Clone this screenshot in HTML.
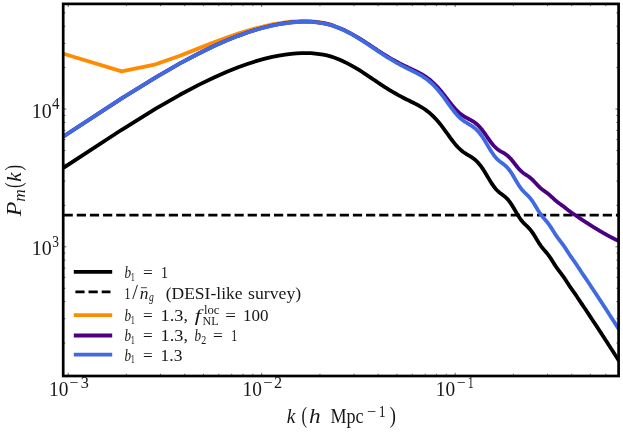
<!DOCTYPE html>
<html><head><meta charset="utf-8"><title>P_m(k)</title>
<style>html,body{margin:0;padding:0;background:#fff}svg{display:block}</style></head>
<body>
<svg width="623" height="433" viewBox="0 0 623 433">
<rect width="623" height="433" fill="#fff"/>
<defs><clipPath id="c"><rect x="63.2" y="3.9" width="555.4" height="372.1"/></clipPath></defs>
<g clip-path="url(#c)" fill="none" stroke-linejoin="round" stroke-linecap="butt">
<path d="M63.45,167.79 L121.70,129.78 L155.77,108.70 L179.94,94.79 L198.70,84.85 L214.02,77.43 L226.97,71.71 L238.19,67.23 L248.09,63.69 L256.95,60.88 L264.96,58.66 L272.27,56.93 L278.99,55.62 L285.22,54.65 L291.02,53.87 L296.44,53.38 L301.54,53.12 L306.34,53.06 L310.88,53.20 L315.20,53.53 L319.30,54.02 L323.20,54.67 L326.94,55.46 L330.52,56.39 L333.95,57.52 L337.24,58.75 L340.41,60.05 L343.47,61.42 L346.42,62.85 L349.27,64.33 L352.02,65.83 L354.69,67.36 L357.28,68.91 L359.79,70.46 L362.22,72.02 L364.59,73.56 L366.89,75.09 L369.13,76.60 L371.32,78.07 L373.44,79.51 L375.52,80.92 L377.54,82.29 L379.52,83.61 L381.45,84.89 L383.34,86.12 L385.19,87.31 L387.00,88.45 L388.77,89.55 L390.50,90.60 L392.20,91.61 L393.86,92.57 L395.49,93.50 L397.09,94.42 L398.66,95.30 L400.21,96.14 L401.72,96.95 L403.21,97.72 L404.67,98.47 L406.11,99.20 L407.52,99.90 L408.91,100.58 L410.27,101.26 L411.62,101.92 L412.94,102.57 L414.24,103.22 L415.53,103.87 L416.79,104.53 L418.04,105.19 L419.26,105.87 L420.47,106.56 L421.66,107.27 L422.84,108.00 L424.00,108.75 L425.14,109.53 L426.27,110.34 L427.38,111.17 L428.48,112.04 L429.57,112.94 L430.64,113.87 L431.69,114.84 L432.74,115.82 L433.77,116.82 L434.79,117.86 L435.79,118.93 L436.79,120.02 L437.77,121.15 L438.74,122.29 L439.70,123.47 L440.65,124.66 L441.59,125.86 L442.52,127.09 L443.44,128.32 L444.35,129.55 L445.25,130.79 L446.14,132.02 L447.02,133.25 L447.89,134.47 L448.75,135.67 L449.60,136.86 L450.45,138.02 L451.28,139.15 L452.11,140.26 L452.93,141.33 L453.74,142.37 L454.55,143.38 L455.34,144.34 L456.13,145.26 L456.91,146.14 L457.69,146.98 L458.46,147.77 L459.22,148.52 L459.97,149.23 L460.72,149.90 L461.46,150.54 L462.19,151.13 L462.92,151.69 L463.64,152.22 L464.36,152.72 L465.06,153.20 L465.77,153.65 L466.47,154.09 L467.16,154.51 L467.84,154.93 L468.52,155.33 L469.20,155.73 L469.87,156.14 L470.53,156.54 L471.19,156.96 L471.85,157.38 L472.49,157.82 L473.14,158.28 L473.78,158.75 L474.41,159.25 L475.04,159.77 L475.67,160.31 L476.29,160.88 L476.90,161.48 L477.51,162.11 L478.12,162.76 L478.72,163.44 L479.32,164.15 L479.91,164.88 L480.50,165.65 L481.09,166.43 L481.67,167.24 L482.25,168.08 L482.82,168.93 L483.39,169.80 L483.96,170.68 L484.52,171.58 L485.08,172.49 L485.63,173.41 L486.18,174.33 L486.73,175.25 L487.28,176.17 L487.82,177.09 L488.35,177.99 L488.89,178.89 L489.42,179.78 L489.94,180.65 L490.47,181.50 L490.99,182.33 L491.50,183.14 L492.02,183.92 L492.53,184.68 L493.04,185.41 L493.54,186.11 L494.04,186.79 L494.54,187.43 L495.04,188.05 L495.53,188.64 L496.02,189.19 L496.51,189.72 L496.99,190.23 L497.47,190.71 L497.95,191.16 L498.43,191.60 L498.90,192.01 L499.37,192.41 L499.84,192.79 L500.31,193.15 L500.77,193.51 L501.23,193.86 L501.69,194.20 L502.14,194.54 L502.60,194.88 L503.05,195.22 L503.50,195.56 L503.94,195.91 L504.38,196.26 L504.83,196.63 L505.26,197.01 L505.70,197.40 L506.14,197.80 L506.57,198.22 L507.00,198.66 L507.43,199.11 L507.85,199.58 L508.27,200.07 L508.70,200.58 L509.11,201.10 L509.53,201.64 L509.95,202.21 L510.36,202.78 L510.77,203.37 L511.18,203.98 L511.59,204.60 L511.99,205.24 L512.39,205.88 L512.80,206.54 L513.19,207.20 L513.59,207.87 L513.99,208.54 L514.38,209.22 L514.77,209.89 L515.16,210.57 L515.55,211.24 L515.94,211.91 L516.32,212.57 L516.70,213.23 L517.09,213.87 L517.47,214.50 L517.84,215.13 L518.22,215.73 L518.59,216.33 L518.97,216.91 L519.34,217.47 L519.71,218.01 L520.07,218.54 L520.44,219.05 L520.80,219.55 L521.17,220.03 L521.53,220.49 L521.89,220.93 L522.25,221.36 L522.60,221.77 L522.96,222.17 L523.31,222.56 L523.67,222.93 L524.02,223.30 L524.37,223.65 L524.71,224.00 L525.06,224.33 L525.41,224.67 L525.75,225.00 L526.09,225.32 L526.43,225.65 L526.77,225.97 L527.11,226.30 L527.45,226.63 L527.78,226.96 L528.12,227.30 L528.45,227.64 L528.78,227.99 L529.11,228.35 L529.44,228.72 L529.77,229.09 L530.09,229.48 L530.42,229.87 L530.74,230.27 L531.07,230.69 L531.39,231.11 L531.71,231.55 L532.03,231.99 L532.34,232.44 L532.66,232.90 L532.98,233.37 L533.29,233.85 L533.60,234.33 L533.91,234.82 L534.23,235.32 L534.54,235.82 L534.84,236.32 L535.15,236.82 L535.46,237.33 L535.76,237.84 L536.07,238.35 L536.37,238.85 L536.67,239.36 L536.97,239.86 L537.27,240.35 L537.57,240.85 L537.87,241.33 L538.16,241.81 L538.46,242.28 L538.75,242.75 L539.05,243.20 L539.34,243.65 L539.63,244.09 L539.92,244.52 L540.21,244.94 L540.50,245.35 L540.78,245.75 L541.07,246.15 L541.36,246.53 L541.64,246.90 L541.92,247.27 L542.21,247.63 L542.49,247.98 L542.77,248.33 L543.05,248.66 L543.33,249.00 L543.61,249.32 L543.88,249.65 L544.16,249.97 L544.43,250.29 L544.71,250.60 L544.98,250.91 L545.25,251.23 L545.52,251.54 L545.80,251.86 L546.06,252.17 L546.33,252.49 L546.60,252.81 L546.87,253.13 L547.14,253.45 L547.40,253.78 L547.67,254.12 L547.93,254.46 L548.19,254.80 L548.45,255.15 L548.72,255.50 L548.98,255.85 L549.24,256.22 L549.50,256.58 L549.75,256.95 L550.01,257.33 L550.27,257.71 L550.52,258.09 L550.78,258.48 L551.03,258.86 L551.29,259.26 L551.54,259.65 L551.79,260.05 L552.04,260.44 L552.29,260.84 L552.54,261.24 L552.79,261.64 L553.04,262.04 L553.29,262.43 L553.53,262.83 L553.78,263.22 L554.03,263.61 L554.27,264.00 L554.51,264.38 L554.76,264.76 L555.00,265.14 L555.24,265.51 L555.48,265.88 L555.72,266.24 L555.96,266.60 L556.20,266.95 L556.44,267.30 L556.68,267.65 L556.92,267.99 L557.15,268.32 L557.39,268.65 L557.62,268.98 L557.86,269.30 L558.09,269.62 L558.32,269.93 L558.56,270.25 L558.79,270.55 L559.02,270.86 L559.25,271.16 L559.48,271.46 L559.71,271.76 L559.94,272.05 L560.17,272.35 L560.39,272.65 L560.62,272.94 L560.85,273.23 L561.07,273.53 L561.30,273.82 L561.52,274.12 L561.74,274.42 L561.97,274.71 L562.19,275.01 L562.41,275.31 L562.63,275.61 L562.86,275.92 L563.08,276.23 L563.30,276.53 L563.51,276.84 L563.73,277.16 L563.95,277.47 L564.17,277.79 L564.38,278.10 L564.60,278.42 L564.82,278.74 L565.03,279.07 L565.25,279.39 L565.46,279.72 L565.67,280.04 L565.89,280.37 L566.10,280.70 L566.31,281.02 L566.52,281.35 L566.73,281.68 L566.94,282.00 L567.15,282.33 L567.36,282.66 L567.57,282.98 L567.78,283.30 L567.99,283.63 L568.20,283.95 L568.40,284.26 L568.61,284.58 L568.81,284.89 L569.02,285.21 L569.22,285.52 L569.43,285.82 L569.63,286.13 L569.84,286.43 L570.04,286.73 L570.24,287.03 L570.44,287.32 L570.64,287.62 L570.84,287.91 L571.04,288.20 L571.24,288.48 L571.44,288.77 L571.64,289.05 L571.84,289.33 L572.04,289.61 L572.24,289.89 L572.43,290.16 L572.63,290.44 L572.83,290.71 L573.02,290.99 L573.22,291.26 L573.41,291.53 L573.61,291.80 L573.80,292.07 L573.99,292.34 L574.19,292.62 L574.38,292.89 L574.57,293.16 L574.76,293.43 L574.95,293.70 L575.14,293.98 L575.34,294.25 L575.53,294.52 L575.71,294.80 L575.90,295.07 L576.09,295.35 L576.28,295.62 L576.47,295.90 L576.66,296.18 L576.84,296.46 L577.03,296.74 L577.22,297.02 L577.40,297.30 L577.59,297.58 L577.77,297.86 L577.96,298.14 L578.14,298.42 L578.32,298.70 L578.51,298.98 L578.69,299.26 L578.87,299.54 L579.05,299.82 L579.24,300.10 L579.42,300.37 L579.60,300.65 L579.78,300.93 L579.96,301.20 L580.14,301.48 L580.32,301.75 L580.50,302.03 L580.68,302.30 L580.85,302.57 L581.03,302.84 L581.21,303.11 L581.39,303.37 L581.56,303.64 L581.74,303.90 L581.92,304.17 L582.09,304.43 L582.27,304.69 L582.44,304.95 L582.62,305.21 L582.79,305.46 L582.96,305.72 L583.14,305.97 L583.31,306.23 L583.48,306.48 L583.66,306.73 L583.83,306.98 L584.00,307.24 L584.17,307.49 L584.34,307.73 L584.51,307.98 L584.68,308.23 L584.85,308.48 L585.02,308.73 L585.19,308.98 L585.36,309.22 L585.53,309.47 L585.70,309.72 L585.86,309.97 L586.03,310.21 L586.20,310.46 L586.37,310.71 L586.53,310.96 L586.70,311.20 L586.87,311.45 L587.03,311.70 L587.20,311.95 L587.36,312.19 L587.53,312.44 L587.69,312.69 L587.85,312.94 L588.02,313.19 L588.18,313.43 L588.34,313.68 L588.51,313.93 L588.67,314.18 L588.83,314.42 L588.99,314.67 L589.15,314.92 L589.32,315.16 L589.48,315.41 L589.64,315.66 L589.80,315.90 L589.96,316.15 L590.12,316.39 L590.28,316.64 L590.43,316.88 L590.59,317.12 L590.75,317.37 L590.91,317.61 L591.07,317.85 L591.23,318.09 L591.38,318.33 L591.54,318.57 L591.70,318.81 L591.85,319.04 L592.01,319.28 L592.16,319.52 L592.32,319.75 L592.47,319.99 L592.63,320.22 L592.78,320.45 L592.94,320.69 L593.09,320.92 L593.25,321.15 L593.40,321.38 L593.55,321.61 L593.71,321.84 L593.86,322.07 L594.01,322.30 L594.16,322.53 L594.32,322.75 L594.47,322.98 L594.62,323.21 L594.77,323.43 L594.92,323.66 L595.07,323.89 L595.22,324.11 L595.37,324.34 L595.52,324.56 L595.67,324.79 L595.82,325.02 L595.97,325.24 L596.12,325.47 L596.26,325.69 L596.41,325.91 L596.56,326.14 L596.71,326.36 L596.86,326.59 L597.00,326.81 L597.15,327.04 L597.30,327.26 L597.44,327.48 L597.59,327.71 L597.73,327.93 L597.88,328.15 L598.02,328.38 L598.17,328.60 L598.31,328.82 L598.46,329.04 L598.60,329.27 L598.75,329.49 L598.89,329.71 L599.03,329.93 L599.18,330.15 L599.32,330.37 L599.46,330.59 L599.61,330.81 L599.75,331.03 L599.89,331.25 L600.03,331.47 L600.17,331.68 L600.32,331.90 L600.46,332.12 L600.60,332.34 L600.74,332.55 L600.88,332.77 L601.02,332.98 L601.16,333.20 L601.30,333.41 L601.44,333.63 L601.58,333.84 L601.72,334.05 L601.85,334.26 L601.99,334.48 L602.13,334.69 L602.27,334.90 L602.41,335.11 L602.55,335.32 L602.68,335.53 L602.82,335.74 L602.96,335.95 L603.09,336.16 L603.23,336.37 L603.37,336.58 L603.50,336.78 L603.64,336.99 L603.77,337.20 L603.91,337.41 L604.04,337.61 L604.18,337.82 L604.31,338.03 L604.45,338.23 L604.58,338.44 L604.72,338.65 L604.85,338.85 L604.98,339.06 L605.12,339.26 L605.25,339.47 L605.38,339.67 L605.52,339.88 L605.65,340.08 L605.78,340.29 L605.92,340.49 L606.05,340.69 L606.18,340.90 L606.31,341.10 L606.44,341.31 L606.57,341.51 L606.70,341.71 L606.83,341.91 L606.97,342.12 L607.10,342.32 L607.23,342.52 L607.36,342.72 L607.49,342.92 L607.62,343.12 L607.74,343.33 L607.87,343.53 L608.00,343.73 L608.13,343.93 L608.26,344.13 L608.39,344.32 L608.52,344.52 L608.64,344.72 L608.77,344.92 L608.90,345.12 L609.03,345.32 L609.16,345.51 L609.28,345.71 L609.41,345.91 L609.54,346.10 L609.66,346.30 L609.79,346.50 L609.91,346.69 L610.04,346.89 L610.17,347.08 L610.29,347.28 L610.42,347.47 L610.54,347.66 L610.67,347.86 L610.79,348.05 L610.92,348.24 L611.04,348.44 L611.16,348.63 L611.29,348.82 L611.41,349.01 L611.54,349.20 L611.66,349.40 L611.78,349.59 L611.91,349.78 L612.03,349.97 L612.15,350.16 L612.27,350.35 L612.40,350.54 L612.52,350.73 L612.64,350.92 L612.76,351.11 L612.89,351.30 L613.01,351.49 L613.13,351.68 L613.25,351.86 L613.37,352.05 L613.49,352.24 L613.61,352.43 L613.73,352.62 L613.85,352.80 L613.97,352.99 L614.09,353.18 L614.21,353.37 L614.33,353.55 L614.45,353.74 L614.57,353.93 L614.69,354.11 L614.81,354.30 L614.93,354.48 L615.05,354.67 L615.16,354.85 L615.28,355.04 L615.40,355.22 L615.52,355.41 L615.64,355.59 L615.75,355.78 L615.87,355.96 L615.99,356.14 L616.11,356.33 L616.22,356.51 L616.34,356.69 L616.46,356.88 L616.57,357.06 L616.69,357.24 L616.81,357.42 L616.92,357.60 L617.04,357.79 L617.15,357.97 L617.27,358.15 L617.38,358.33 L617.50,358.51 L617.61,358.69 L617.73,358.87 L617.84,359.05 L617.96,359.23 L618.07,359.41 L618.19,359.59 L618.30,359.76 L618.41,359.94 L618.53,360.12 L618.64,360.30 L618.76,360.48 L618.87,360.65 L618.98,360.83 L619.10,361.01 L619.21,361.18 L619.32,361.36 L619.43,361.54 L619.55,361.71 L619.66,361.89 L619.77,362.07 L619.88,362.24 L619.99,362.42 L620.11,362.59 L620.22,362.77 L620.33,362.94 L620.44,363.12 L620.55,363.29 L620.66,363.47 L620.77,363.64 L620.88,363.81 L620.99,363.99 L621.10,364.16 L621.21,364.33 L621.32,364.51 L621.43,364.68 L621.54,364.85 L621.65,365.03 L621.76,365.20 L621.87,365.37 L621.98,365.54 L622.09,365.72 L622.20,365.89 L622.31,366.06 L622.42,366.23 L622.53,366.40 L622.63,366.57 L622.74,366.74 L622.85,366.91 L622.96,367.08 L623.07,367.25 L623.17,367.42 L623.28,367.59 L623.39,367.76 L623.50,367.93 L623.60,368.10 L623.71,368.27 L623.82,368.44 L623.92,368.61 L624.03,368.78 L624.14,368.94 L624.24,369.11 L624.35,369.28 L624.46,369.45 L624.56,369.61 L624.67,369.78 L624.77,369.95 L624.88,370.11 L624.98,370.28 L625.09,370.45" stroke="#000" stroke-width="3.8"/>
<path d="M63.6,215.2 H618.6" stroke="#000" stroke-width="2.7" stroke-dasharray="9.2,3.95"/>
<path d="M63.45,53.72 L121.70,71.38 L155.77,64.28 L179.94,55.71 L198.70,48.36 L214.02,42.38 L226.97,37.55 L238.19,33.65 L248.09,30.52 L256.95,28.01 L264.96,26.01 L272.27,24.45 L278.99,23.27 L285.22,22.41 L291.02,21.73 L296.44,21.31 L301.54,21.11 L306.34,21.10 L310.88,21.28 L315.20,21.65 L319.30,22.18 L323.20,22.86 L326.94,23.67 L330.52,24.63 L333.95,25.77" stroke="#FF8C00" stroke-width="3.8"/>
<path d="M63.45,136.41 L121.70,98.40 L155.77,77.32 L179.94,63.41 L198.70,53.47 L214.02,46.05 L226.97,40.32 L238.19,35.84 L248.09,32.29 L256.95,29.47 L264.96,27.24 L272.27,25.51 L278.99,24.18 L285.22,23.21 L291.02,22.43 L296.44,21.93 L301.54,21.66 L306.34,21.59 L310.88,21.72 L315.20,22.04 L319.30,22.53 L323.20,23.17 L326.94,23.95 L330.52,24.86 L333.95,25.98 L337.24,27.18 L340.41,28.46 L343.47,29.81 L346.42,31.22 L349.27,32.66 L352.02,34.14 L354.69,35.65 L357.28,37.16 L359.79,38.68 L362.22,40.21 L364.59,41.72 L366.89,43.22 L369.13,44.69 L371.32,46.13 L373.44,47.54 L375.52,48.91 L377.54,50.24 L379.52,51.53 L381.45,52.78 L383.34,53.98 L385.19,55.13 L387.00,56.24 L388.77,57.30 L390.50,58.32 L392.20,59.29 L393.86,60.22 L395.49,61.12 L397.09,62.00 L398.66,62.84 L400.21,63.65 L401.72,64.42 L403.21,65.17 L404.67,65.88 L406.11,66.57 L407.52,67.24 L408.91,67.89 L410.27,68.53 L411.62,69.16 L412.94,69.78 L414.24,70.40 L415.53,71.01 L416.79,71.63 L418.04,72.26 L419.26,72.90 L420.47,73.56 L421.66,74.23 L422.84,74.92 L424.00,75.63 L425.14,76.37 L426.27,77.14 L427.38,77.93 L428.48,78.75 L429.57,79.61 L430.64,80.49 L431.69,81.41 L432.74,82.34 L433.77,83.29 L434.79,84.27 L435.79,85.27 L436.79,86.31 L437.77,87.37 L438.74,88.46 L439.70,89.56 L440.65,90.68 L441.59,91.82 L442.52,92.97 L443.44,94.13 L444.35,95.28 L445.25,96.44 L446.14,97.60 L447.02,98.75 L447.89,99.88 L448.75,101.00 L449.60,102.10 L450.45,103.18 L451.28,104.23 L452.11,105.26 L452.93,106.25 L453.74,107.20 L454.55,108.12 L455.34,109.01 L456.13,109.85 L456.91,110.65 L457.69,111.41 L458.46,112.13 L459.22,112.81 L459.97,113.46 L460.72,114.06 L461.46,114.63 L462.19,115.16 L462.92,115.66 L463.64,116.13 L464.36,116.58 L465.06,117.00 L465.77,117.40 L466.47,117.78 L467.16,118.16 L467.84,118.52 L468.52,118.87 L469.20,119.22 L469.87,119.58 L470.53,119.93 L471.19,120.29 L471.85,120.67 L472.49,121.05 L473.14,121.45 L473.78,121.87 L474.41,122.30 L475.04,122.76 L475.67,123.23 L476.29,123.73 L476.90,124.26 L477.51,124.81 L478.12,125.38 L478.72,125.98 L479.32,126.60 L479.91,127.25 L480.50,127.92 L481.09,128.61 L481.67,129.32 L482.25,130.04 L482.82,130.79 L483.39,131.55 L483.96,132.32 L484.52,133.10 L485.08,133.89 L485.63,134.68 L486.18,135.47 L486.73,136.27 L487.28,137.06 L487.82,137.84 L488.35,138.62 L488.89,139.38 L489.42,140.13 L489.94,140.87 L490.47,141.59 L490.99,142.29 L491.50,142.97 L492.02,143.62 L492.53,144.25 L493.04,144.86 L493.54,145.44 L494.04,146.00 L494.54,146.53 L495.04,147.03 L495.53,147.51 L496.02,147.96 L496.51,148.39 L496.99,148.79 L497.47,149.18 L497.95,149.54 L498.43,149.88 L498.90,150.21 L499.37,150.52 L499.84,150.81 L500.31,151.09 L500.77,151.37 L501.23,151.63 L501.69,151.90 L502.14,152.15 L502.60,152.41 L503.05,152.66 L503.50,152.92 L503.94,153.19 L504.38,153.46 L504.83,153.73 L505.26,154.02 L505.70,154.31 L506.14,154.62 L506.57,154.94 L507.00,155.27 L507.43,155.61 L507.85,155.97 L508.27,156.34 L508.70,156.73 L509.11,157.13 L509.53,157.54 L509.95,157.97 L510.36,158.41 L510.77,158.86 L511.18,159.32 L511.59,159.80 L511.99,160.28 L512.39,160.77 L512.80,161.26 L513.19,161.76 L513.59,162.26 L513.99,162.77 L514.38,163.28 L514.77,163.78 L515.16,164.29 L515.55,164.79 L515.94,165.28 L516.32,165.77 L516.70,166.25 L517.09,166.73 L517.47,167.19 L517.84,167.65 L518.22,168.09 L518.59,168.52 L518.97,168.94 L519.34,169.34 L519.71,169.74 L520.07,170.12 L520.44,170.48 L520.80,170.84 L521.17,171.18 L521.53,171.50 L521.89,171.82 L522.25,172.12 L522.60,172.41 L522.96,172.69 L523.31,172.96 L523.67,173.22 L524.02,173.47 L524.37,173.72 L524.71,173.95 L525.06,174.19 L525.41,174.41 L525.75,174.64 L526.09,174.86 L526.43,175.08 L526.77,175.30 L527.11,175.52 L527.45,175.74 L527.78,175.97 L528.12,176.20 L528.45,176.43 L528.78,176.67 L529.11,176.91 L529.44,177.15 L529.77,177.41 L530.09,177.66 L530.42,177.93 L530.74,178.20 L531.07,178.48 L531.39,178.76 L531.71,179.05 L532.03,179.35 L532.34,179.65 L532.66,179.96 L532.98,180.27 L533.29,180.59 L533.60,180.91 L533.91,181.24 L534.23,181.56 L534.54,181.89 L534.84,182.23 L535.15,182.56 L535.46,182.89 L535.76,183.22 L536.07,183.56 L536.37,183.89 L536.67,184.21 L536.97,184.54 L537.27,184.86 L537.57,185.17 L537.87,185.49 L538.16,185.79 L538.46,186.10 L538.75,186.39 L539.05,186.68 L539.34,186.97 L539.63,187.24 L539.92,187.51 L540.21,187.78 L540.50,188.04 L540.78,188.29 L541.07,188.53 L541.36,188.77 L541.64,189.01 L541.92,189.23 L542.21,189.46 L542.49,189.67 L542.77,189.89 L543.05,190.10 L543.33,190.30 L543.61,190.50 L543.88,190.70 L544.16,190.90 L544.43,191.09 L544.71,191.29 L544.98,191.48 L545.25,191.67 L545.52,191.87 L545.80,192.06 L546.06,192.25 L546.33,192.45 L546.60,192.64 L546.87,192.84 L547.14,193.04 L547.40,193.24 L547.67,193.45 L547.93,193.65 L548.19,193.86 L548.45,194.08 L548.72,194.29 L548.98,194.51 L549.24,194.73 L549.50,194.95 L549.75,195.17 L550.01,195.40 L550.27,195.63 L550.52,195.85 L550.78,196.09 L551.03,196.32 L551.29,196.55 L551.54,196.79 L551.79,197.02 L552.04,197.26 L552.29,197.49 L552.54,197.72 L552.79,197.96 L553.04,198.19 L553.29,198.42 L553.53,198.65 L553.78,198.88 L554.03,199.11 L554.27,199.33 L554.51,199.55 L554.76,199.77 L555.00,199.99 L555.24,200.20 L555.48,200.41 L555.72,200.62 L555.96,200.82 L556.20,201.02 L556.44,201.22 L556.68,201.42 L556.92,201.61 L557.15,201.80 L557.39,201.98 L557.62,202.17 L557.86,202.35 L558.09,202.52 L558.32,202.70 L558.56,202.87 L558.79,203.04 L559.02,203.21 L559.25,203.38 L559.48,203.55 L559.71,203.71 L559.94,203.87 L560.17,204.04 L560.39,204.20 L560.62,204.36 L560.85,204.52 L561.07,204.68 L561.30,204.84 L561.52,205.00 L561.74,205.16 L561.97,205.32 L562.19,205.49 L562.41,205.65 L562.63,205.81 L562.86,205.97 L563.08,206.14 L563.30,206.30 L563.51,206.47 L563.73,206.63 L563.95,206.80 L564.17,206.97 L564.38,207.13 L564.60,207.30 L564.82,207.47 L565.03,207.64 L565.25,207.81 L565.46,207.98 L565.67,208.15 L565.89,208.32 L566.10,208.49 L566.31,208.66 L566.52,208.83 L566.73,208.99 L566.94,209.16 L567.15,209.33 L567.36,209.49 L567.57,209.66 L567.78,209.82 L567.99,209.99 L568.20,210.15 L568.40,210.31 L568.61,210.47 L568.81,210.62 L569.02,210.78 L569.22,210.94 L569.43,211.09 L569.63,211.24 L569.84,211.39 L570.04,211.54 L570.24,211.69 L570.44,211.83 L570.64,211.98 L570.84,212.12 L571.04,212.26 L571.24,212.40 L571.44,212.54 L571.64,212.68 L571.84,212.81 L572.04,212.95 L572.24,213.08 L572.43,213.22 L572.63,213.35 L572.83,213.48 L573.02,213.61 L573.22,213.74 L573.41,213.87 L573.61,214.00 L573.80,214.13 L573.99,214.26 L574.19,214.39 L574.38,214.52 L574.57,214.65 L574.76,214.77 L574.95,214.90 L575.14,215.03 L575.34,215.16 L575.53,215.29 L575.71,215.41 L575.90,215.54 L576.09,215.67 L576.28,215.80 L576.47,215.93 L576.66,216.05 L576.84,216.18 L577.03,216.31 L577.22,216.44 L577.40,216.57 L577.59,216.70 L577.77,216.83 L577.96,216.95 L578.14,217.08 L578.32,217.21 L578.51,217.34 L578.69,217.47 L578.87,217.59 L579.05,217.72 L579.24,217.85 L579.42,217.97 L579.60,218.10 L579.78,218.22 L579.96,218.35 L580.14,218.47 L580.32,218.60 L580.50,218.72 L580.68,218.84 L580.85,218.96 L581.03,219.08 L581.21,219.20 L581.39,219.32 L581.56,219.44 L581.74,219.56 L581.92,219.68 L582.09,219.79 L582.27,219.91 L582.44,220.02 L582.62,220.14 L582.79,220.25 L582.96,220.37 L583.14,220.48 L583.31,220.59 L583.48,220.70 L583.66,220.81 L583.83,220.92 L584.00,221.03 L584.17,221.14 L584.34,221.25 L584.51,221.36 L584.68,221.47 L584.85,221.58 L585.02,221.69 L585.19,221.80 L585.36,221.91 L585.53,222.01 L585.70,222.12 L585.86,222.23 L586.03,222.34 L586.20,222.44 L586.37,222.55 L586.53,222.66 L586.70,222.76 L586.87,222.87 L587.03,222.98 L587.20,223.08 L587.36,223.19 L587.53,223.30 L587.69,223.40 L587.85,223.51 L588.02,223.61 L588.18,223.72 L588.34,223.83 L588.51,223.93 L588.67,224.04 L588.83,224.14 L588.99,224.25 L589.15,224.35 L589.32,224.45 L589.48,224.56 L589.64,224.66 L589.80,224.76 L589.96,224.87 L590.12,224.97 L590.28,225.07 L590.43,225.17 L590.59,225.28 L590.75,225.38 L590.91,225.48 L591.07,225.58 L591.23,225.68 L591.38,225.78 L591.54,225.88 L591.70,225.97 L591.85,226.07 L592.01,226.17 L592.16,226.27 L592.32,226.37 L592.47,226.46 L592.63,226.56 L592.78,226.65 L592.94,226.75 L593.09,226.85 L593.25,226.94 L593.40,227.03 L593.55,227.13 L593.71,227.22 L593.86,227.32 L594.01,227.41 L594.16,227.50 L594.32,227.59 L594.47,227.69 L594.62,227.78 L594.77,227.87 L594.92,227.96 L595.07,228.05 L595.22,228.15 L595.37,228.24 L595.52,228.33 L595.67,228.42 L595.82,228.51 L595.97,228.60 L596.12,228.69 L596.26,228.78 L596.41,228.87 L596.56,228.96 L596.71,229.05 L596.86,229.13 L597.00,229.22 L597.15,229.31 L597.30,229.40 L597.44,229.49 L597.59,229.58 L597.73,229.67 L597.88,229.75 L598.02,229.84 L598.17,229.93 L598.31,230.01 L598.46,230.10 L598.60,230.19 L598.75,230.27 L598.89,230.36 L599.03,230.45 L599.18,230.53 L599.32,230.62 L599.46,230.70 L599.61,230.79 L599.75,230.87 L599.89,230.96 L600.03,231.04 L600.17,231.12 L600.32,231.21 L600.46,231.29 L600.60,231.37 L600.74,231.46 L600.88,231.54 L601.02,231.62 L601.16,231.70 L601.30,231.78 L601.44,231.87 L601.58,231.95 L601.72,232.03 L601.85,232.11 L601.99,232.19 L602.13,232.27 L602.27,232.35 L602.41,232.43 L602.55,232.51 L602.68,232.58 L602.82,232.66 L602.96,232.74 L603.09,232.82 L603.23,232.90 L603.37,232.97 L603.50,233.05 L603.64,233.13 L603.77,233.21 L603.91,233.28 L604.04,233.36 L604.18,233.44 L604.31,233.51 L604.45,233.59 L604.58,233.66 L604.72,233.74 L604.85,233.82 L604.98,233.89 L605.12,233.97 L605.25,234.04 L605.38,234.12 L605.52,234.19 L605.65,234.26 L605.78,234.34 L605.92,234.41 L606.05,234.49 L606.18,234.56 L606.31,234.63 L606.44,234.71 L606.57,234.78 L606.70,234.85 L606.83,234.92 L606.97,235.00 L607.10,235.07 L607.23,235.14 L607.36,235.21 L607.49,235.28 L607.62,235.35 L607.74,235.43 L607.87,235.50 L608.00,235.57 L608.13,235.64 L608.26,235.71 L608.39,235.78 L608.52,235.85 L608.64,235.92 L608.77,235.99 L608.90,236.06 L609.03,236.12 L609.16,236.19 L609.28,236.26 L609.41,236.33 L609.54,236.40 L609.66,236.46 L609.79,236.53 L609.91,236.60 L610.04,236.67 L610.17,236.73 L610.29,236.80 L610.42,236.87 L610.54,236.93 L610.67,237.00 L610.79,237.06 L610.92,237.13 L611.04,237.20 L611.16,237.26 L611.29,237.33 L611.41,237.39 L611.54,237.46 L611.66,237.52 L611.78,237.58 L611.91,237.65 L612.03,237.71 L612.15,237.78 L612.27,237.84 L612.40,237.90 L612.52,237.97 L612.64,238.03 L612.76,238.09 L612.89,238.15 L613.01,238.22 L613.13,238.28 L613.25,238.34 L613.37,238.40 L613.49,238.46 L613.61,238.53 L613.73,238.59 L613.85,238.65 L613.97,238.71 L614.09,238.77 L614.21,238.83 L614.33,238.89 L614.45,238.95 L614.57,239.01 L614.69,239.07 L614.81,239.13 L614.93,239.19 L615.05,239.25 L615.16,239.31 L615.28,239.37 L615.40,239.43 L615.52,239.48 L615.64,239.54 L615.75,239.60 L615.87,239.66 L615.99,239.72 L616.11,239.77 L616.22,239.83 L616.34,239.89 L616.46,239.95 L616.57,240.00 L616.69,240.06 L616.81,240.12 L616.92,240.17 L617.04,240.23 L617.15,240.28 L617.27,240.34 L617.38,240.40 L617.50,240.45 L617.61,240.51 L617.73,240.56 L617.84,240.62 L617.96,240.67 L618.07,240.73 L618.19,240.78 L618.30,240.84 L618.41,240.89 L618.53,240.94 L618.64,241.00 L618.76,241.05 L618.87,241.11 L618.98,241.16 L619.10,241.21 L619.21,241.27 L619.32,241.32 L619.43,241.37 L619.55,241.43 L619.66,241.48 L619.77,241.53 L619.88,241.59 L619.99,241.64 L620.11,241.69 L620.22,241.74 L620.33,241.80 L620.44,241.85 L620.55,241.90 L620.66,241.95 L620.77,242.00 L620.88,242.06 L620.99,242.11 L621.10,242.16 L621.21,242.21 L621.32,242.26 L621.43,242.31 L621.54,242.36 L621.65,242.42 L621.76,242.47 L621.87,242.52 L621.98,242.57 L622.09,242.62 L622.20,242.67 L622.31,242.72 L622.42,242.77 L622.53,242.82 L622.63,242.87 L622.74,242.92 L622.85,242.97 L622.96,243.02 L623.07,243.07 L623.17,243.12 L623.28,243.17 L623.39,243.22 L623.50,243.26 L623.60,243.31 L623.71,243.36 L623.82,243.41 L623.92,243.46 L624.03,243.51 L624.14,243.56 L624.24,243.60 L624.35,243.65 L624.46,243.70 L624.56,243.75 L624.67,243.80 L624.77,243.84 L624.88,243.89 L624.98,243.94 L625.09,243.99" stroke="#4B0082" stroke-width="3.8"/>
<path d="M63.45,136.41 L121.70,98.40 L155.77,77.32 L179.94,63.41 L198.70,53.47 L214.02,46.05 L226.97,40.33 L238.19,35.85 L248.09,32.31 L256.95,29.50 L264.96,27.28 L272.27,25.55 L278.99,24.24 L285.22,23.27 L291.02,22.49 L296.44,22.00 L301.54,21.74 L306.34,21.68 L310.88,21.82 L315.20,22.15 L319.30,22.64 L323.20,23.29 L326.94,24.08 L330.52,25.01 L333.95,26.14 L337.24,27.37 L340.41,28.67 L343.47,30.04 L346.42,31.47 L349.27,32.95 L352.02,34.45 L354.69,35.98 L357.28,37.53 L359.79,39.08 L362.22,40.64 L364.59,42.18 L366.89,43.71 L369.13,45.22 L371.32,46.69 L373.44,48.13 L375.52,49.54 L377.54,50.91 L379.52,52.23 L381.45,53.51 L383.34,54.74 L385.19,55.93 L387.00,57.07 L388.77,58.17 L390.50,59.22 L392.20,60.23 L393.86,61.19 L395.49,62.12 L397.09,63.04 L398.66,63.92 L400.21,64.76 L401.72,65.57 L403.21,66.34 L404.67,67.09 L406.11,67.82 L407.52,68.52 L408.91,69.20 L410.27,69.88 L411.62,70.54 L412.94,71.19 L414.24,71.84 L415.53,72.49 L416.79,73.15 L418.04,73.81 L419.26,74.49 L420.47,75.18 L421.66,75.89 L422.84,76.62 L424.00,77.37 L425.14,78.15 L426.27,78.96 L427.38,79.79 L428.48,80.66 L429.57,81.56 L430.64,82.49 L431.69,83.46 L432.74,84.44 L433.77,85.44 L434.79,86.48 L435.79,87.55 L436.79,88.64 L437.77,89.77 L438.74,90.91 L439.70,92.09 L440.65,93.28 L441.59,94.48 L442.52,95.71 L443.44,96.94 L444.35,98.17 L445.25,99.41 L446.14,100.64 L447.02,101.87 L447.89,103.09 L448.75,104.29 L449.60,105.48 L450.45,106.64 L451.28,107.77 L452.11,108.88 L452.93,109.95 L453.74,110.99 L454.55,112.00 L455.34,112.96 L456.13,113.88 L456.91,114.76 L457.69,115.60 L458.46,116.39 L459.22,117.14 L459.97,117.85 L460.72,118.52 L461.46,119.16 L462.19,119.75 L462.92,120.31 L463.64,120.84 L464.36,121.34 L465.06,121.82 L465.77,122.27 L466.47,122.71 L467.16,123.13 L467.84,123.55 L468.52,123.95 L469.20,124.35 L469.87,124.76 L470.53,125.16 L471.19,125.58 L471.85,126.00 L472.49,126.44 L473.14,126.90 L473.78,127.37 L474.41,127.87 L475.04,128.39 L475.67,128.93 L476.29,129.50 L476.90,130.10 L477.51,130.73 L478.12,131.38 L478.72,132.06 L479.32,132.77 L479.91,133.50 L480.50,134.27 L481.09,135.05 L481.67,135.86 L482.25,136.70 L482.82,137.55 L483.39,138.42 L483.96,139.30 L484.52,140.20 L485.08,141.11 L485.63,142.03 L486.18,142.95 L486.73,143.87 L487.28,144.79 L487.82,145.71 L488.35,146.61 L488.89,147.51 L489.42,148.40 L489.94,149.27 L490.47,150.12 L490.99,150.95 L491.50,151.76 L492.02,152.54 L492.53,153.30 L493.04,154.03 L493.54,154.73 L494.04,155.41 L494.54,156.05 L495.04,156.67 L495.53,157.26 L496.02,157.81 L496.51,158.34 L496.99,158.85 L497.47,159.33 L497.95,159.78 L498.43,160.22 L498.90,160.63 L499.37,161.03 L499.84,161.41 L500.31,161.77 L500.77,162.13 L501.23,162.48 L501.69,162.82 L502.14,163.16 L502.60,163.50 L503.05,163.84 L503.50,164.18 L503.94,164.53 L504.38,164.88 L504.83,165.25 L505.26,165.63 L505.70,166.02 L506.14,166.42 L506.57,166.84 L507.00,167.28 L507.43,167.73 L507.85,168.20 L508.27,168.69 L508.70,169.20 L509.11,169.72 L509.53,170.26 L509.95,170.83 L510.36,171.40 L510.77,171.99 L511.18,172.60 L511.59,173.22 L511.99,173.86 L512.39,174.50 L512.80,175.16 L513.19,175.82 L513.59,176.49 L513.99,177.16 L514.38,177.84 L514.77,178.51 L515.16,179.19 L515.55,179.86 L515.94,180.53 L516.32,181.19 L516.70,181.85 L517.09,182.49 L517.47,183.12 L517.84,183.75 L518.22,184.35 L518.59,184.95 L518.97,185.53 L519.34,186.09 L519.71,186.63 L520.07,187.16 L520.44,187.67 L520.80,188.17 L521.17,188.65 L521.53,189.11 L521.89,189.55 L522.25,189.98 L522.60,190.39 L522.96,190.79 L523.31,191.18 L523.67,191.55 L524.02,191.92 L524.37,192.27 L524.71,192.62 L525.06,192.95 L525.41,193.29 L525.75,193.62 L526.09,193.94 L526.43,194.27 L526.77,194.59 L527.11,194.92 L527.45,195.25 L527.78,195.58 L528.12,195.92 L528.45,196.26 L528.78,196.61 L529.11,196.97 L529.44,197.34 L529.77,197.71 L530.09,198.10 L530.42,198.49 L530.74,198.89 L531.07,199.31 L531.39,199.73 L531.71,200.17 L532.03,200.61 L532.34,201.06 L532.66,201.52 L532.98,201.99 L533.29,202.47 L533.60,202.95 L533.91,203.44 L534.23,203.94 L534.54,204.44 L534.84,204.94 L535.15,205.44 L535.46,205.95 L535.76,206.46 L536.07,206.97 L536.37,207.47 L536.67,207.98 L536.97,208.48 L537.27,208.97 L537.57,209.47 L537.87,209.95 L538.16,210.43 L538.46,210.90 L538.75,211.37 L539.05,211.82 L539.34,212.27 L539.63,212.71 L539.92,213.14 L540.21,213.56 L540.50,213.97 L540.78,214.37 L541.07,214.77 L541.36,215.15 L541.64,215.52 L541.92,215.89 L542.21,216.25 L542.49,216.60 L542.77,216.95 L543.05,217.28 L543.33,217.62 L543.61,217.94 L543.88,218.27 L544.16,218.59 L544.43,218.91 L544.71,219.22 L544.98,219.53 L545.25,219.85 L545.52,220.16 L545.80,220.48 L546.06,220.79 L546.33,221.11 L546.60,221.43 L546.87,221.75 L547.14,222.07 L547.40,222.40 L547.67,222.74 L547.93,223.08 L548.19,223.42 L548.45,223.77 L548.72,224.12 L548.98,224.47 L549.24,224.84 L549.50,225.20 L549.75,225.57 L550.01,225.95 L550.27,226.33 L550.52,226.71 L550.78,227.10 L551.03,227.48 L551.29,227.88 L551.54,228.27 L551.79,228.67 L552.04,229.06 L552.29,229.46 L552.54,229.86 L552.79,230.26 L553.04,230.66 L553.29,231.05 L553.53,231.45 L553.78,231.84 L554.03,232.23 L554.27,232.62 L554.51,233.00 L554.76,233.38 L555.00,233.76 L555.24,234.13 L555.48,234.50 L555.72,234.86 L555.96,235.22 L556.20,235.57 L556.44,235.92 L556.68,236.27 L556.92,236.61 L557.15,236.94 L557.39,237.27 L557.62,237.60 L557.86,237.92 L558.09,238.24 L558.32,238.55 L558.56,238.87 L558.79,239.17 L559.02,239.48 L559.25,239.78 L559.48,240.08 L559.71,240.38 L559.94,240.67 L560.17,240.97 L560.39,241.27 L560.62,241.56 L560.85,241.85 L561.07,242.15 L561.30,242.44 L561.52,242.74 L561.74,243.04 L561.97,243.33 L562.19,243.63 L562.41,243.93 L562.63,244.23 L562.86,244.54 L563.08,244.85 L563.30,245.15 L563.51,245.46 L563.73,245.78 L563.95,246.09 L564.17,246.41 L564.38,246.72 L564.60,247.04 L564.82,247.36 L565.03,247.69 L565.25,248.01 L565.46,248.34 L565.67,248.66 L565.89,248.99 L566.10,249.32 L566.31,249.64 L566.52,249.97 L566.73,250.30 L566.94,250.62 L567.15,250.95 L567.36,251.28 L567.57,251.60 L567.78,251.92 L567.99,252.25 L568.20,252.57 L568.40,252.88 L568.61,253.20 L568.81,253.51 L569.02,253.83 L569.22,254.14 L569.43,254.44 L569.63,254.75 L569.84,255.05 L570.04,255.35 L570.24,255.65 L570.44,255.94 L570.64,256.24 L570.84,256.53 L571.04,256.82 L571.24,257.10 L571.44,257.39 L571.64,257.67 L571.84,257.95 L572.04,258.23 L572.24,258.51 L572.43,258.78 L572.63,259.06 L572.83,259.33 L573.02,259.61 L573.22,259.88 L573.41,260.15 L573.61,260.42 L573.80,260.69 L573.99,260.96 L574.19,261.24 L574.38,261.51 L574.57,261.78 L574.76,262.05 L574.95,262.32 L575.14,262.60 L575.34,262.87 L575.53,263.14 L575.71,263.42 L575.90,263.69 L576.09,263.97 L576.28,264.24 L576.47,264.52 L576.66,264.80 L576.84,265.08 L577.03,265.36 L577.22,265.64 L577.40,265.92 L577.59,266.20 L577.77,266.48 L577.96,266.76 L578.14,267.04 L578.32,267.32 L578.51,267.60 L578.69,267.88 L578.87,268.16 L579.05,268.44 L579.24,268.72 L579.42,268.99 L579.60,269.27 L579.78,269.55 L579.96,269.82 L580.14,270.10 L580.32,270.37 L580.50,270.65 L580.68,270.92 L580.85,271.19 L581.03,271.46 L581.21,271.73 L581.39,271.99 L581.56,272.26 L581.74,272.52 L581.92,272.79 L582.09,273.05 L582.27,273.31 L582.44,273.57 L582.62,273.83 L582.79,274.08 L582.96,274.34 L583.14,274.59 L583.31,274.85 L583.48,275.10 L583.66,275.35 L583.83,275.60 L584.00,275.86 L584.17,276.11 L584.34,276.35 L584.51,276.60 L584.68,276.85 L584.85,277.10 L585.02,277.35 L585.19,277.60 L585.36,277.84 L585.53,278.09 L585.70,278.34 L585.86,278.59 L586.03,278.83 L586.20,279.08 L586.37,279.33 L586.53,279.58 L586.70,279.82 L586.87,280.07 L587.03,280.32 L587.20,280.57 L587.36,280.81 L587.53,281.06 L587.69,281.31 L587.85,281.56 L588.02,281.81 L588.18,282.05 L588.34,282.30 L588.51,282.55 L588.67,282.80 L588.83,283.04 L588.99,283.29 L589.15,283.54 L589.32,283.78 L589.48,284.03 L589.64,284.28 L589.80,284.52 L589.96,284.77 L590.12,285.01 L590.28,285.26 L590.43,285.50 L590.59,285.74 L590.75,285.99 L590.91,286.23 L591.07,286.47 L591.23,286.71 L591.38,286.95 L591.54,287.19 L591.70,287.43 L591.85,287.66 L592.01,287.90 L592.16,288.14 L592.32,288.37 L592.47,288.61 L592.63,288.84 L592.78,289.07 L592.94,289.31 L593.09,289.54 L593.25,289.77 L593.40,290.00 L593.55,290.23 L593.71,290.46 L593.86,290.69 L594.01,290.92 L594.16,291.15 L594.32,291.37 L594.47,291.60 L594.62,291.83 L594.77,292.05 L594.92,292.28 L595.07,292.51 L595.22,292.73 L595.37,292.96 L595.52,293.18 L595.67,293.41 L595.82,293.64 L595.97,293.86 L596.12,294.09 L596.26,294.31 L596.41,294.53 L596.56,294.76 L596.71,294.98 L596.86,295.21 L597.00,295.43 L597.15,295.66 L597.30,295.88 L597.44,296.10 L597.59,296.33 L597.73,296.55 L597.88,296.77 L598.02,297.00 L598.17,297.22 L598.31,297.44 L598.46,297.66 L598.60,297.89 L598.75,298.11 L598.89,298.33 L599.03,298.55 L599.18,298.77 L599.32,298.99 L599.46,299.21 L599.61,299.43 L599.75,299.65 L599.89,299.87 L600.03,300.09 L600.17,300.30 L600.32,300.52 L600.46,300.74 L600.60,300.96 L600.74,301.17 L600.88,301.39 L601.02,301.60 L601.16,301.82 L601.30,302.03 L601.44,302.25 L601.58,302.46 L601.72,302.67 L601.85,302.88 L601.99,303.10 L602.13,303.31 L602.27,303.52 L602.41,303.73 L602.55,303.94 L602.68,304.15 L602.82,304.36 L602.96,304.57 L603.09,304.78 L603.23,304.99 L603.37,305.20 L603.50,305.40 L603.64,305.61 L603.77,305.82 L603.91,306.03 L604.04,306.23 L604.18,306.44 L604.31,306.65 L604.45,306.85 L604.58,307.06 L604.72,307.27 L604.85,307.47 L604.98,307.68 L605.12,307.88 L605.25,308.09 L605.38,308.29 L605.52,308.50 L605.65,308.70 L605.78,308.91 L605.92,309.11 L606.05,309.31 L606.18,309.52 L606.31,309.72 L606.44,309.93 L606.57,310.13 L606.70,310.33 L606.83,310.53 L606.97,310.74 L607.10,310.94 L607.23,311.14 L607.36,311.34 L607.49,311.54 L607.62,311.74 L607.74,311.95 L607.87,312.15 L608.00,312.35 L608.13,312.55 L608.26,312.75 L608.39,312.94 L608.52,313.14 L608.64,313.34 L608.77,313.54 L608.90,313.74 L609.03,313.94 L609.16,314.13 L609.28,314.33 L609.41,314.53 L609.54,314.72 L609.66,314.92 L609.79,315.12 L609.91,315.31 L610.04,315.51 L610.17,315.70 L610.29,315.90 L610.42,316.09 L610.54,316.28 L610.67,316.48 L610.79,316.67 L610.92,316.86 L611.04,317.06 L611.16,317.25 L611.29,317.44 L611.41,317.63 L611.54,317.82 L611.66,318.02 L611.78,318.21 L611.91,318.40 L612.03,318.59 L612.15,318.78 L612.27,318.97 L612.40,319.16 L612.52,319.35 L612.64,319.54 L612.76,319.73 L612.89,319.92 L613.01,320.11 L613.13,320.30 L613.25,320.48 L613.37,320.67 L613.49,320.86 L613.61,321.05 L613.73,321.24 L613.85,321.42 L613.97,321.61 L614.09,321.80 L614.21,321.99 L614.33,322.17 L614.45,322.36 L614.57,322.55 L614.69,322.73 L614.81,322.92 L614.93,323.10 L615.05,323.29 L615.16,323.47 L615.28,323.66 L615.40,323.84 L615.52,324.03 L615.64,324.21 L615.75,324.40 L615.87,324.58 L615.99,324.76 L616.11,324.95 L616.22,325.13 L616.34,325.31 L616.46,325.50 L616.57,325.68 L616.69,325.86 L616.81,326.04 L616.92,326.22 L617.04,326.41 L617.15,326.59 L617.27,326.77 L617.38,326.95 L617.50,327.13 L617.61,327.31 L617.73,327.49 L617.84,327.67 L617.96,327.85 L618.07,328.03 L618.19,328.21 L618.30,328.38 L618.41,328.56 L618.53,328.74 L618.64,328.92 L618.76,329.10 L618.87,329.27 L618.98,329.45 L619.10,329.63 L619.21,329.80 L619.32,329.98 L619.43,330.16 L619.55,330.33 L619.66,330.51 L619.77,330.69 L619.88,330.86 L619.99,331.04 L620.11,331.21 L620.22,331.39 L620.33,331.56 L620.44,331.74 L620.55,331.91 L620.66,332.09 L620.77,332.26 L620.88,332.43 L620.99,332.61 L621.10,332.78 L621.21,332.95 L621.32,333.13 L621.43,333.30 L621.54,333.47 L621.65,333.65 L621.76,333.82 L621.87,333.99 L621.98,334.16 L622.09,334.34 L622.20,334.51 L622.31,334.68 L622.42,334.85 L622.53,335.02 L622.63,335.19 L622.74,335.36 L622.85,335.53 L622.96,335.70 L623.07,335.87 L623.17,336.04 L623.28,336.21 L623.39,336.38 L623.50,336.55 L623.60,336.72 L623.71,336.89 L623.82,337.06 L623.92,337.23 L624.03,337.40 L624.14,337.56 L624.24,337.73 L624.35,337.90 L624.46,338.07 L624.56,338.23 L624.67,338.40 L624.77,338.57 L624.88,338.73 L624.98,338.90 L625.09,339.07" stroke="#4169E1" stroke-width="3.8"/>
</g>
<path d="M68.20,376.0 v-3.1500000000000004 M68.20,3.9 v3.1500000000000004 M126.45,376.0 v-2.25 M126.45,3.9 v2.25 M160.52,376.0 v-2.25 M160.52,3.9 v2.25 M184.70,376.0 v-2.25 M184.70,3.9 v2.25 M203.45,376.0 v-2.25 M203.45,3.9 v2.25 M218.77,376.0 v-2.25 M218.77,3.9 v2.25 M231.73,376.0 v-2.25 M231.73,3.9 v2.25 M242.95,376.0 v-2.25 M242.95,3.9 v2.25 M252.85,376.0 v-2.25 M252.85,3.9 v2.25 M261.70,376.0 v-3.1500000000000004 M261.70,3.9 v3.1500000000000004 M319.95,376.0 v-2.25 M319.95,3.9 v2.25 M354.02,376.0 v-2.25 M354.02,3.9 v2.25 M378.20,376.0 v-2.25 M378.20,3.9 v2.25 M396.95,376.0 v-2.25 M396.95,3.9 v2.25 M412.27,376.0 v-2.25 M412.27,3.9 v2.25 M425.23,376.0 v-2.25 M425.23,3.9 v2.25 M436.45,376.0 v-2.25 M436.45,3.9 v2.25 M446.35,376.0 v-2.25 M446.35,3.9 v2.25 M455.20,376.0 v-3.1500000000000004 M455.20,3.9 v3.1500000000000004 M513.45,376.0 v-2.25 M513.45,3.9 v2.25 M547.52,376.0 v-2.25 M547.52,3.9 v2.25 M571.70,376.0 v-2.25 M571.70,3.9 v2.25 M590.45,376.0 v-2.25 M590.45,3.9 v2.25 M605.77,376.0 v-2.25 M605.77,3.9 v2.25 M63.2,343.05 h2.25 M618.6,343.05 h-2.25 M63.2,318.80 h2.25 M618.6,318.80 h-2.25 M63.2,301.60 h2.25 M618.6,301.60 h-2.25 M63.2,288.25 h2.25 M618.6,288.25 h-2.25 M63.2,277.35 h2.25 M618.6,277.35 h-2.25 M63.2,268.13 h2.25 M618.6,268.13 h-2.25 M63.2,260.14 h2.25 M618.6,260.14 h-2.25 M63.2,253.10 h2.25 M618.6,253.10 h-2.25 M63.2,246.80 h3.1500000000000004 M618.6,246.80 h-3.1500000000000004 M63.2,205.35 h2.25 M618.6,205.35 h-2.25 M63.2,181.10 h2.25 M618.6,181.10 h-2.25 M63.2,163.90 h2.25 M618.6,163.90 h-2.25 M63.2,150.55 h2.25 M618.6,150.55 h-2.25 M63.2,139.65 h2.25 M618.6,139.65 h-2.25 M63.2,130.43 h2.25 M618.6,130.43 h-2.25 M63.2,122.44 h2.25 M618.6,122.44 h-2.25 M63.2,115.40 h2.25 M618.6,115.40 h-2.25 M63.2,109.10 h3.1500000000000004 M618.6,109.10 h-3.1500000000000004 M63.2,67.65 h2.25 M618.6,67.65 h-2.25 M63.2,43.40 h2.25 M618.6,43.40 h-2.25 M63.2,26.20 h2.25 M618.6,26.20 h-2.25 M63.2,12.85 h2.25 M618.6,12.85 h-2.25" stroke="#000" stroke-width="0.6" fill="none"/>
<rect x="63.2" y="3.9" width="555.4" height="372.1" fill="none" stroke="#000" stroke-width="2.7"/>
<g font-family="Liberation Serif, serif" fill="#161616" style="opacity:0.995">
<text transform="translate(49.10,396.00) scale(0.9013,1)" font-size="21.5">10</text>
<text transform="translate(69.40,387.50) scale(0.9889,1)" font-size="16">−</text>
<text transform="translate(80.70,387.50) scale(1.0125,1)" font-size="16">3</text>
<text transform="translate(242.50,396.00) scale(0.9013,1)" font-size="21.5">10</text>
<text transform="translate(263.30,387.50) scale(1.0222,1)" font-size="16">−</text>
<text transform="translate(274.10,387.50) scale(1.0125,1)" font-size="16">2</text>
<text transform="translate(435.80,396.00) scale(0.9013,1)" font-size="21.5">10</text>
<text transform="translate(456.80,387.50) scale(0.9889,1)" font-size="16">−</text>
<text transform="translate(467.66,387.50) scale(0.7429,1)" font-size="16">1</text>
<text transform="translate(31.67,117.50) scale(0.9266,1)" font-size="21.5">10</text>
<text transform="translate(52.00,109.10) scale(0.9375,1)" font-size="16">4</text>
<text transform="translate(31.67,255.20) scale(0.9266,1)" font-size="21.5">10</text>
<text transform="translate(52.30,246.90) scale(0.8375,1)" font-size="16">3</text>
<text transform="translate(286.70,423.00) scale(0.8818,1)" font-size="22" font-style="italic">k</text>
<text transform="translate(301.51,423.00) scale(0.6857,1)" font-size="24">(</text>
<text transform="translate(308.90,423.00) scale(1.0545,1)" font-size="22" font-style="italic">h</text>
<text transform="translate(330.50,423.00) scale(0.8210,1)" font-size="22">Mpc</text>
<text transform="translate(367.10,417.30) scale(1.0222,1)" font-size="16">−</text>
<text transform="translate(378.74,417.30) scale(0.8571,1)" font-size="16">1</text>
<text transform="translate(389.80,423.00) scale(0.7714,1)" font-size="24">)</text>
<text transform="translate(124.40,278.40) scale(0.7750,1)" font-size="17" font-style="italic">b</text>
<text transform="translate(130.72,280.90) scale(0.6800,1)" font-size="12">1</text>
<text transform="translate(142.90,278.40) scale(1.0111,1)" font-size="17">=</text>
<text transform="translate(160.97,278.40) scale(0.8286,1)" font-size="17">1</text>
<text transform="translate(124.40,321.30) scale(0.7750,1)" font-size="17" font-style="italic">b</text>
<text transform="translate(130.72,323.80) scale(0.6800,1)" font-size="12">1</text>
<text transform="translate(142.90,321.30) scale(1.0111,1)" font-size="17">=</text>
<text transform="translate(160.52,321.30) scale(1.0763,1)" font-size="17">1.3,</text>
<text transform="translate(124.40,341.20) scale(0.7750,1)" font-size="17" font-style="italic">b</text>
<text transform="translate(130.72,343.70) scale(0.6800,1)" font-size="12">1</text>
<text transform="translate(142.90,341.20) scale(1.0111,1)" font-size="17">=</text>
<text transform="translate(160.52,341.20) scale(1.0763,1)" font-size="17">1.3,</text>
<text transform="translate(124.40,360.50) scale(0.7750,1)" font-size="17" font-style="italic">b</text>
<text transform="translate(130.72,363.00) scale(0.6800,1)" font-size="12">1</text>
<text transform="translate(142.90,360.50) scale(1.0111,1)" font-size="17">=</text>
<text transform="translate(160.57,360.50) scale(1.0278,1)" font-size="17">1.3</text>
<text transform="translate(124.60,298.60) scale(0.7000,1)" font-size="17">1</text>
<text transform="translate(132.20,298.60) scale(1.0167,1)" font-size="20">/</text>
<text transform="translate(139.80,298.60) scale(1.0250,1)" font-size="17" font-style="italic">n</text>
<text transform="translate(149.00,301.10) scale(0.8000,1)" font-size="12" font-style="italic">g</text>
<text transform="translate(165.70,298.60) scale(1.0304,1)" font-size="17">(DESI-like</text>
<text transform="translate(248.00,298.60) scale(1.0433,1)" font-size="17">survey)</text>
<text transform="translate(194.70,321.30) scale(1.3143,1)" font-size="17" font-style="italic">f</text>
<text transform="translate(203.90,313.70) scale(1.0604,1)" font-size="12">loc</text>
<text transform="translate(202.50,325.00) scale(1.0022,1)" font-size="12">NL</text>
<text transform="translate(225.20,321.30) scale(1.1222,1)" font-size="17">=</text>
<text x="242.90" y="321.30" font-size="17">100</text>
<text transform="translate(194.50,341.20) scale(0.7750,1)" font-size="17" font-style="italic">b</text>
<text transform="translate(201.30,343.70) scale(0.8333,1)" font-size="12">2</text>
<text transform="translate(213.00,341.20) scale(1.0222,1)" font-size="17">=</text>
<text transform="translate(231.20,341.20) scale(0.7000,1)" font-size="17">1</text>
<path d="M140.9,287.7 H146.9" stroke="#161616" stroke-width="0.8" fill="none"/>
<g transform="translate(21,217.3) rotate(-90)">
<text transform="translate(1.09,0.00) scale(1.0929,1)" font-size="22" font-style="italic">P</text>
<text transform="translate(15.60,4.10) scale(1.0818,1)" font-size="16" font-style="italic">m</text>
<text transform="translate(29.20,0.00) scale(0.7000,1)" font-size="24">(</text>
<text transform="translate(35.60,0.00) scale(0.9545,1)" font-size="22" font-style="italic">k</text>
<text transform="translate(46.90,0.00) scale(0.7000,1)" font-size="24">)</text>
</g></g>
<path d="M73.8,271.9 H112.2" stroke="#000" stroke-width="3.8" fill="none"/>
<path d="M75.4,291.8 H110.5" stroke="#000" stroke-width="2.7" stroke-dasharray="9.2,3.95" fill="none"/>
<path d="M73.8,315.1 H112.2" stroke="#FF8C00" stroke-width="3.8" fill="none"/>
<path d="M73.8,335.5 H112.2" stroke="#4B0082" stroke-width="3.8" fill="none"/>
<path d="M73.8,354.6 H112.2" stroke="#4169E1" stroke-width="3.8" fill="none"/>
</svg>
</body></html>
